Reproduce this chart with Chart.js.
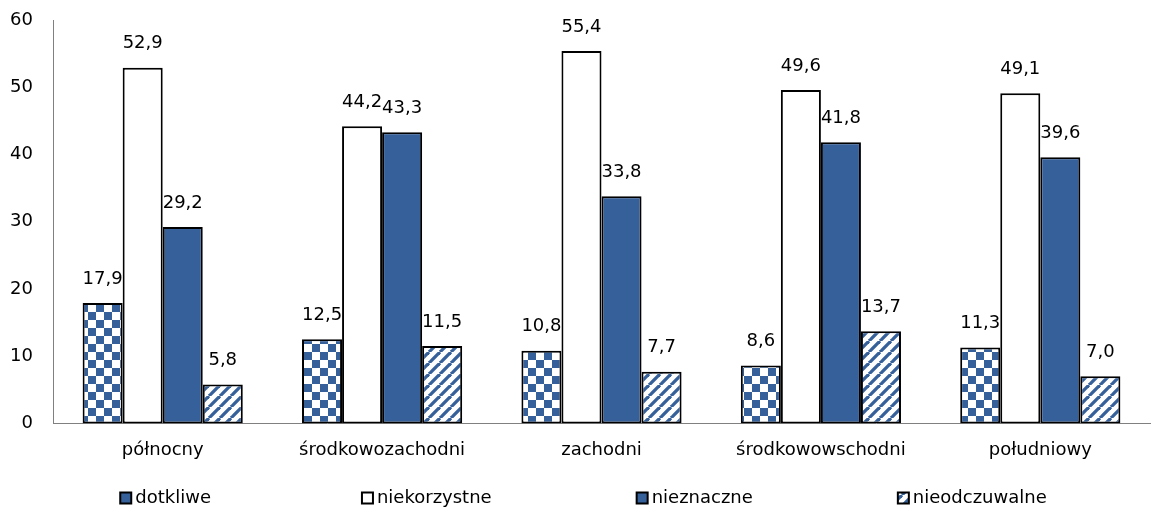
<!DOCTYPE html>
<html><head><meta charset="utf-8">
<script src="https://cdn.jsdelivr.net/npm/chart.js@4"></script>
<style>html,body{margin:0;padding:0;background:#fff;}#wrap{width:1157px;height:518px;position:relative;}</style>
</head><body><div id="wrap"><canvas id="c" width="1157" height="518"></canvas></div>
<script>
const categories = ['północny','środkowozachodni','zachodni','środkowowschodni','południowy'];
const seriesNames = ['dotkliwe','niekorzystne','nieznaczne','nieodczuwalne'];
const dotkliwe = [17.9, 12.5, 10.8, 8.6, 11.3];
const niekorzystne = [52.9, 44.2, 55.4, 49.6, 49.1];
const nieznaczne = [29.2, 43.3, 33.8, 41.8, 39.6];
const nieodczuwalne = [5.8, 11.5, 7.7, 13.7, 7.0];
const yTicks = [0,10,20,30,40,50,60];

const BLUE = '#36609a';
const FONT = 'DejaVu Sans';

function checker(){
  const n=8,c=document.createElement('canvas');c.width=2*n;c.height=2*n;
  const x=c.getContext('2d');x.fillStyle='#fff';x.fillRect(0,0,2*n,2*n);
  x.fillStyle=BLUE;x.fillRect(0,0,n,n);x.fillRect(n,n,n,n);
  return x.createPattern(c,'repeat');
}
function stripes(){
  const s=11;const c=document.createElement('canvas');c.width=s;c.height=s;
  const x=c.getContext('2d');x.fillStyle='#fff';x.fillRect(0,0,s,s);
  x.strokeStyle=BLUE;x.lineWidth=3.3;
  for(let k=-1;k<=1;k++){x.beginPath();x.moveTo(k*s,s);x.lineTo(k*s+s,0);x.stroke();}
  return x.createPattern(c,'repeat');
}
const ctx=document.getElementById('c').getContext('2d');
const fills=[checker(),'#ffffff',BLUE,stripes()];
const data=[dotkliwe,niekorzystne,nieznaczne,nieodczuwalne];

const labelPlugin={id:'vals',afterDatasetsDraw(chart){
  const c=chart.ctx;c.save();c.font='18px "'+FONT+'"';c.fillStyle='#000';c.textAlign='center';c.textBaseline='middle';
  chart.data.datasets.forEach((ds,i)=>{chart.getDatasetMeta(i).data.forEach((bar,j)=>{
    c.fillText(ds.data[j].toFixed(1).replace('.',','),bar.x,bar.y-24);});});
  c.restore();}};

const legendPlugin={id:'leg',afterDraw(chart){
  const c=chart.ctx;c.save();c.font='18px "'+FONT+'"';c.textBaseline='middle';c.textAlign='left';
  const box=11,gapText=4,gap=145;
  const items=chart.data.datasets.map((d,i)=>({t:d.label,w:box+gapText+c.measureText(d.label).width,i}));
  const total=items.reduce((a,b)=>a+b.w,0)+gap*(items.length-1);
  let x=(chart.width-total)/2+2;const y=chart.height-20;
  items.forEach((it,k)=>{
    c.fillStyle=it.i===0?BLUE:fills[it.i];c.fillRect(x,y-box/2,box,box);
    c.strokeStyle='#000';c.lineWidth=2;c.strokeRect(x,y-box/2,box,box);
    c.fillStyle='#000';c.fillText(it.t,x+box+gapText,y);
    x+=it.w+gap+(k===0?6:0);});
  c.restore();}};

new Chart(ctx,{type:'bar',
  data:{labels:categories,datasets:seriesNames.map((n,i)=>({label:n,data:data[i],backgroundColor:fills[i],borderColor:'#000',borderWidth:2,borderSkipped:false}))},
  options:{responsive:false,animation:false,
    layout:{padding:{top:20,right:7,left:0,bottom:41}},
    datasets:{bar:{categoryPercentage:0.73,barPercentage:1}},
    plugins:{tooltip:{enabled:false},legend:{display:false}},
    scales:{
      x:{grid:{display:false,drawTicks:false},border:{color:'#808080',width:1},ticks:{font:{family:FONT,size:18},color:'#000',padding:16}},
      y:{min:0,max:60,afterFit(s){s.width=53;s.paddingTop=0;s.paddingBottom=0;},afterBuildTicks(s){s.ticks=yTicks.map(v=>({value:v}));},
        grid:{display:false,drawTicks:false},border:{color:'#808080',width:1},ticks:{font:{family:FONT,size:18},color:'#000',padding:20}}
    }},
  plugins:[labelPlugin,legendPlugin]});
</script></body></html>
